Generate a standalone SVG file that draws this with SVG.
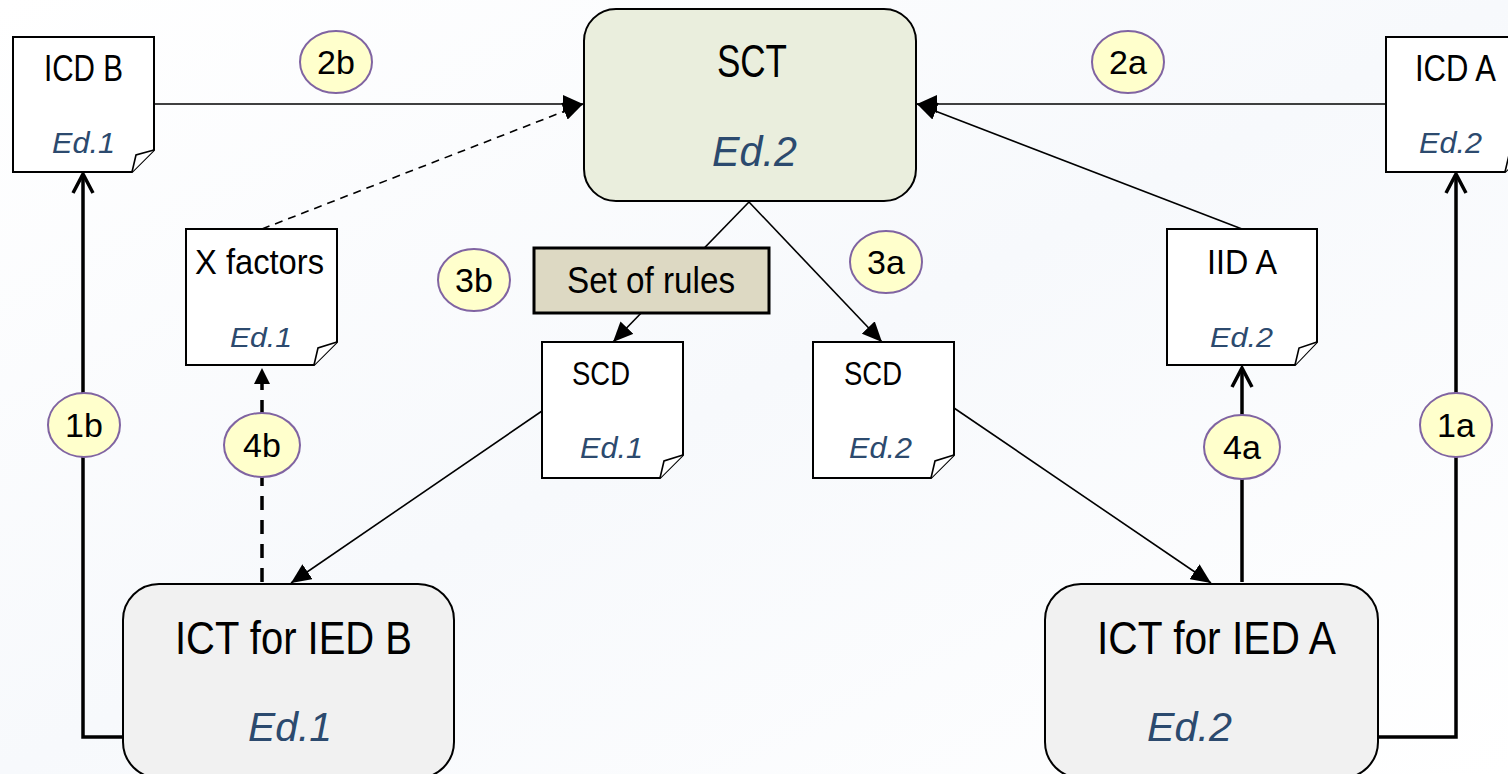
<svg xmlns="http://www.w3.org/2000/svg" width="1508" height="774" viewBox="0 0 1508 774">
<defs>
<style>
.doc{fill:#ffffff;stroke:#000;stroke-width:2}
.fold{fill:#ffffff;stroke:#000;stroke-width:1.6}
.lbl{font-family:"Liberation Sans Narrow","Liberation Sans",sans-serif;fill:#000}
.ed{font-family:"Liberation Sans",Arial,sans-serif;font-style:italic;fill:#2c4a6e}
.badge ellipse{fill:#ffffcc;stroke:#8064a2;stroke-width:2}
.badge text{font-family:"Liberation Sans",Arial,sans-serif;font-size:34px;fill:#000;text-anchor:middle}
.thin{fill:none;stroke:#000;stroke-width:1.6}
.thick{fill:none;stroke:#000;stroke-width:3.5}
</style>
<marker id="tri" markerUnits="userSpaceOnUse" markerWidth="20" markerHeight="18" viewBox="0 0 20 18" refX="20" refY="9" orient="auto">
<path d="M0,0 L20,9 L0,18 Z" fill="#000"/>
</marker>
<marker id="tri2" markerUnits="userSpaceOnUse" markerWidth="16" markerHeight="16" viewBox="0 0 16 16" refX="16" refY="8" orient="auto">
<path d="M0,0 L16,8 L0,16 Z" fill="#000"/>
</marker>
<marker id="chev" markerUnits="userSpaceOnUse" markerWidth="26" markerHeight="26" viewBox="0 0 26 26" refX="23" refY="13" orient="auto">
<path d="M4,3 L23,13 L4,23" fill="none" stroke="#000" stroke-width="3.5"/>
</marker>
<linearGradient id="bg" x1="0" y1="0" x2="1" y2="1">
<stop offset="0" stop-color="#ffffff"/>
<stop offset="0.5" stop-color="#f7f9fc"/>
<stop offset="1" stop-color="#ffffff"/>
</linearGradient>
</defs>
<rect x="0" y="0" width="1508" height="774" fill="url(#bg)"/>

<g id="connectors">
<!-- 2b -->
<line class="thin" x1="155" y1="104" x2="583" y2="104" marker-end="url(#tri)"/>
<!-- dashed X factors to SCT -->
<line class="thin" x1="262" y1="229" x2="583" y2="104" stroke-dasharray="8,6" marker-end="url(#tri)"/>
<!-- 2a -->
<line class="thin" x1="1386" y1="104" x2="917" y2="104" marker-end="url(#tri)"/>
<!-- IID A to SCT -->
<line class="thin" x1="1242" y1="229" x2="917" y2="104" marker-end="url(#tri)"/>
<!-- SCT to SCD Ed.1 (through Set of rules) -->
<line class="thin" x1="749" y1="202" x2="613" y2="342" marker-end="url(#tri)"/>
<!-- SCT to SCD Ed.2 -->
<line class="thin" x1="749" y1="202" x2="882" y2="342" marker-end="url(#tri)"/>
<!-- SCD Ed.1 to ICT B -->
<line class="thin" x1="542" y1="411" x2="291" y2="583" marker-end="url(#tri)"/>
<!-- SCD Ed.2 to ICT A -->
<line class="thin" x1="954" y1="408" x2="1211" y2="583" marker-end="url(#tri)"/>
<!-- 1b -->
<path class="thick" d="M124,737 H83 V174" marker-end="url(#chev)"/>
<!-- 1a -->
<path class="thick" d="M1379,737 H1456 V174" marker-end="url(#chev)"/>
<!-- 4a -->
<line class="thick" x1="1242" y1="582" x2="1242" y2="368" marker-end="url(#chev)"/>
<!-- 4b -->
<line class="thick" x1="262" y1="582" x2="262" y2="368" stroke-dasharray="14,10" marker-end="url(#tri2)"/>
</g>

<g id="icd-b">
<path class="doc" d="M13,37 H154 V150 L132,172 H13 Z"/>
<path class="fold" d="M154,150 L136,155 L132,172"/>
<text class="lbl" x="44" y="81" font-size="36" textLength="79" lengthAdjust="spacingAndGlyphs">ICD B</text>
<text class="ed" x="52" y="153" font-size="29" textLength="63" lengthAdjust="spacingAndGlyphs">Ed.1</text>
</g>

<g id="icd-a">
<path class="doc" d="M1386,37 H1527 V150 L1505,172 H1386 Z"/>
<path class="fold" d="M1527,150 L1509,155 L1505,172"/>
<text class="lbl" x="1415" y="81" font-size="36" textLength="81" lengthAdjust="spacingAndGlyphs">ICD A</text>
<text class="ed" x="1419" y="153" font-size="29" textLength="63" lengthAdjust="spacingAndGlyphs">Ed.2</text>
</g>

<g id="sct">
<rect x="584" y="9" width="332" height="192" rx="32" ry="32" fill="#eaeedd" stroke="#000" stroke-width="2"/>
<text class="lbl" x="717" y="77" font-size="47" textLength="70" lengthAdjust="spacingAndGlyphs">SCT</text>
<text class="ed" x="712" y="166" font-size="43" textLength="85" lengthAdjust="spacingAndGlyphs">Ed.2</text>
</g>

<g id="x-factors">
<path class="doc" d="M186,229 H337 V342 L314,365 H186 Z"/>
<path class="fold" d="M337,342 L318,348 L314,365"/>
<text class="lbl" x="195" y="274" font-size="35" textLength="129" lengthAdjust="spacingAndGlyphs">X factors</text>
<text class="ed" x="230" y="347" font-size="28" textLength="62" lengthAdjust="spacingAndGlyphs">Ed.1</text>
</g>

<g id="set-of-rules">
<rect x="534" y="248" width="235" height="65" fill="#ddd9c3" stroke="#000" stroke-width="3"/>
<text class="lbl" x="567" y="293" font-size="36" textLength="168" lengthAdjust="spacingAndGlyphs">Set of rules</text>
</g>

<g id="scd-ed1">
<path class="doc" d="M542,342 H683 V455 L660,478 H542 Z"/>
<path class="fold" d="M683,455 L664,461 L660,478"/>
<text class="lbl" x="572" y="385" font-size="34" textLength="58" lengthAdjust="spacingAndGlyphs">SCD</text>
<text class="ed" x="580" y="458" font-size="29" textLength="63" lengthAdjust="spacingAndGlyphs">Ed.1</text>
</g>

<g id="scd-ed2">
<path class="doc" d="M813,342 H954 V455 L931,478 H813 Z"/>
<path class="fold" d="M954,455 L935,461 L931,478"/>
<text class="lbl" x="844" y="385" font-size="34" textLength="58" lengthAdjust="spacingAndGlyphs">SCD</text>
<text class="ed" x="849" y="458" font-size="29" textLength="63" lengthAdjust="spacingAndGlyphs">Ed.2</text>
</g>

<g id="iid-a">
<path class="doc" d="M1167,229 H1317 V342 L1295,365 H1167 Z"/>
<path class="fold" d="M1317,342 L1299,348 L1295,365"/>
<text class="lbl" x="1207" y="274" font-size="35" textLength="70" lengthAdjust="spacingAndGlyphs">IID A</text>
<text class="ed" x="1210" y="347" font-size="28" textLength="63" lengthAdjust="spacingAndGlyphs">Ed.2</text>
</g>

<g id="ict-b">
<rect x="123" y="584" width="331" height="194" rx="36" ry="36" fill="#f1f1f1" stroke="#000" stroke-width="2"/>
<text class="lbl" x="175" y="654" font-size="47" textLength="237" lengthAdjust="spacingAndGlyphs">ICT for IED B</text>
<text class="ed" x="248" y="741" font-size="41" textLength="84" lengthAdjust="spacingAndGlyphs">Ed.1</text>
</g>

<g id="ict-a">
<rect x="1045" y="584" width="333" height="194" rx="36" ry="36" fill="#f1f1f1" stroke="#000" stroke-width="2"/>
<text class="lbl" x="1097" y="654" font-size="47" textLength="239" lengthAdjust="spacingAndGlyphs">ICT for IED A</text>
<text class="ed" x="1147" y="741" font-size="41" textLength="85" lengthAdjust="spacingAndGlyphs">Ed.2</text>
</g>

<g id="badge-2b" class="badge"><ellipse cx="336" cy="62" rx="36" ry="31"/><text x="336" y="74">2b</text></g>
<g id="badge-2a" class="badge"><ellipse cx="1128" cy="62" rx="36" ry="31"/><text x="1128" y="74">2a</text></g>
<g id="badge-3b" class="badge"><ellipse cx="474" cy="280" rx="36" ry="31"/><text x="474" y="292">3b</text></g>
<g id="badge-3a" class="badge"><ellipse cx="886" cy="262" rx="36" ry="31"/><text x="886" y="274">3a</text></g>
<g id="badge-1b" class="badge"><ellipse cx="84" cy="425" rx="36" ry="32"/><text x="84" y="437">1b</text></g>
<g id="badge-4b" class="badge"><ellipse cx="262" cy="445" rx="38" ry="32"/><text x="262" y="457">4b</text></g>
<g id="badge-4a" class="badge"><ellipse cx="1242" cy="447" rx="38" ry="32"/><text x="1242" y="459">4a</text></g>
<g id="badge-1a" class="badge"><ellipse cx="1456" cy="425" rx="36" ry="32"/><text x="1456" y="437">1a</text></g>
</svg>
